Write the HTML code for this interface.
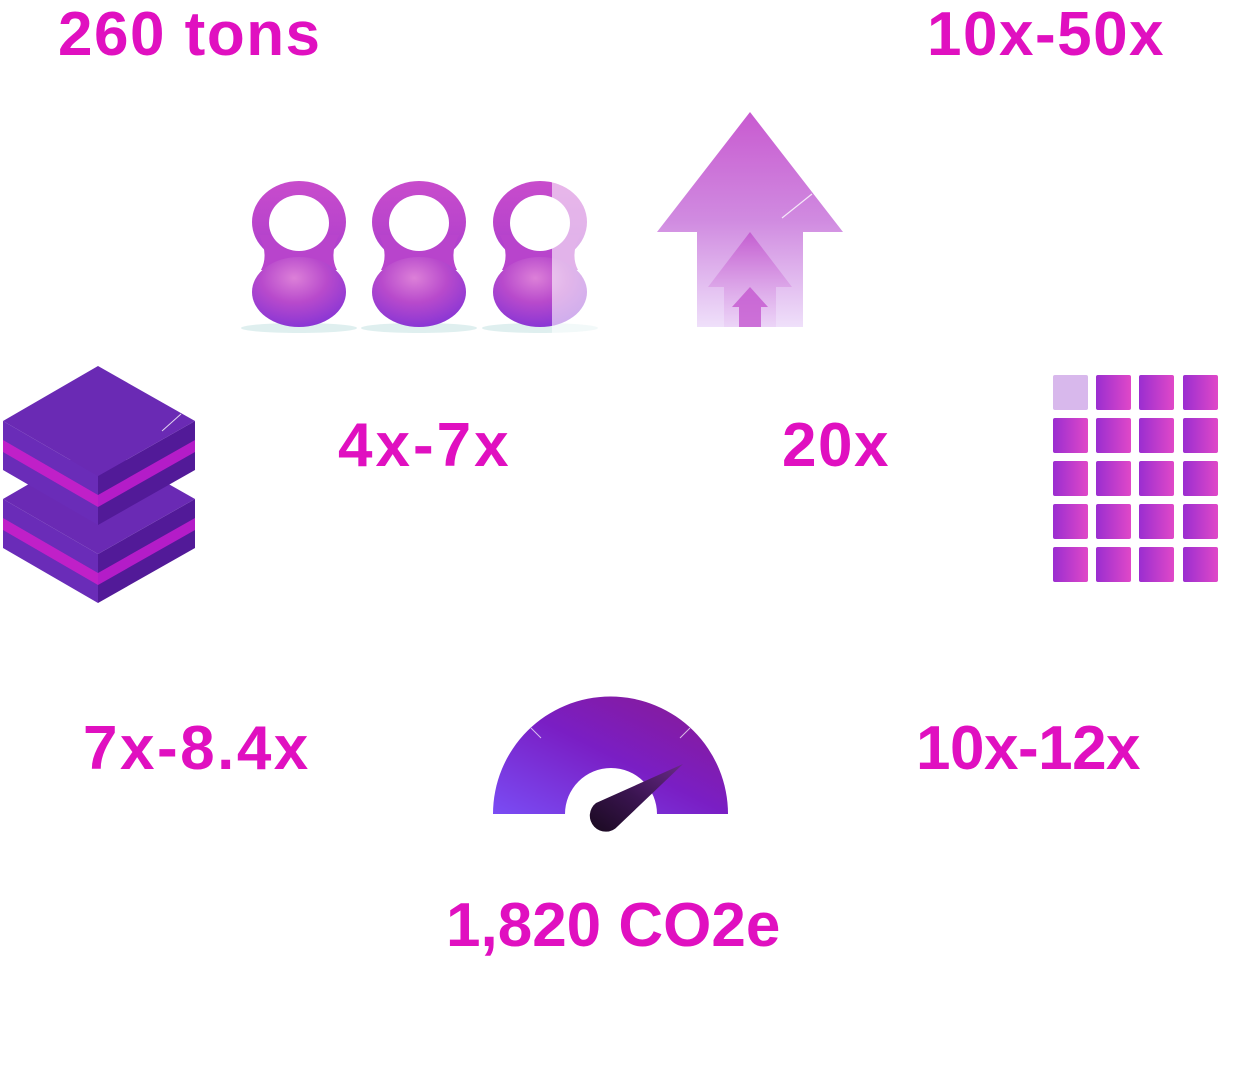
<!DOCTYPE html>
<html><head><meta charset="utf-8"><style>
html,body{margin:0;padding:0;background:#fff;width:1250px;height:1091px;overflow:hidden}
.t{position:absolute;font-family:"Liberation Sans",sans-serif;font-weight:bold;color:#e010c0;font-size:62px;line-height:1;white-space:nowrap;letter-spacing:1.5px}
</style></head><body>
<svg width="1250" height="1091" style="position:absolute;left:0;top:0">
<defs>
<linearGradient id="kb" x1="0" y1="0" x2="0" y2="1"><stop offset="0" stop-color="#c84ccc"/><stop offset="0.6" stop-color="#b844cc"/><stop offset="1" stop-color="#a63ed0"/></linearGradient>
<radialGradient id="kbb" cx="0.45" cy="0.3" r="0.7"><stop offset="0" stop-color="#dc80d8"/><stop offset="0.5" stop-color="#b84acc"/><stop offset="1" stop-color="#8a36d4"/></radialGradient>
<g id="kettle">
<ellipse cx="0" cy="3" rx="58" ry="5" fill="#bfe0e0" opacity="0.5"/>
<ellipse cx="0" cy="-103" rx="47" ry="41" fill="url(#kb)"/>
<path d="M-40,-90 Q-30,-70 -38,-55 L38,-55 Q30,-70 40,-90 Z" fill="#b844cc"/>
<ellipse cx="0" cy="-33" rx="47" ry="35" fill="url(#kbb)"/>
<ellipse cx="0" cy="-102" rx="30" ry="28" fill="#fff"/>
</g>
<linearGradient id="ar" x1="0" y1="0" x2="0" y2="1"><stop offset="0" stop-color="#c85ad0"/><stop offset="0.5" stop-color="#d08ae0"/><stop offset="1" stop-color="#efe0fa"/></linearGradient>
<linearGradient id="ar2" x1="0" y1="0" x2="0" y2="1"><stop offset="0" stop-color="#c050cc"/><stop offset="1" stop-color="#e8c8f4" stop-opacity="0.6"/></linearGradient>
<linearGradient id="sq" x1="0" y1="0" x2="1" y2="0"><stop offset="0" stop-color="#9a2ed0"/><stop offset="1" stop-color="#e048c8"/></linearGradient>
<linearGradient id="g1" x1="0" y1="1" x2="1" y2="0"><stop offset="0" stop-color="#7a4cf4"/><stop offset="0.5" stop-color="#7a1ec4"/><stop offset="1" stop-color="#8a1a90"/></linearGradient>
<linearGradient id="nd" x1="0" y1="1" x2="1" y2="0"><stop offset="0" stop-color="#1a0a20"/><stop offset="0.5" stop-color="#3a1450"/><stop offset="1" stop-color="#6a2a8a"/></linearGradient>
<clipPath id="lft"><rect x="0" y="0" width="552" height="400"/></clipPath>
<clipPath id="rgt"><rect x="552" y="0" width="100" height="400"/></clipPath>
</defs>
<use href="#kettle" x="299" y="325"/>
<use href="#kettle" x="419" y="325"/>
<g clip-path="url(#lft)"><use href="#kettle" x="540" y="325"/></g>
<g clip-path="url(#rgt)" opacity="0.4"><use href="#kettle" x="540" y="325"/></g>
<polygon points="750,112 843,232 803,232 803,327 697,327 697,232 657,232" fill="url(#ar)"/>
<polygon points="750,232 792,287 776,287 776,327 724,327 724,287 708,287" fill="url(#ar2)" opacity="0.8"/>
<polygon points="750,287 768,307 761,307 761,327 739,327 739,307 732,307" fill="#c458d0" opacity="0.8"/>
<line x1="782" y1="218" x2="812" y2="194" stroke="#fff" stroke-width="1.2" opacity="0.8"/>
<g>
<polygon points="3,499 98,554 98,603 3,548" fill="#6a2cb8"/>
<polygon points="98,554 195,499 195,548 98,603" fill="#521a98"/>
<polygon points="3,518 98,573 98,585 3,530" fill="#c020c8"/>
<polygon points="98,573 195,518 195,530 98,585" fill="#b41cc8"/>
<polygon points="98,444 195,499 98,554 3,499" fill="#6a2ab4"/>
<polygon points="3,421 98,476 98,525 3,470" fill="#6a2cb8"/>
<polygon points="98,476 195,421 195,470 98,525" fill="#521a98"/>
<polygon points="3,440 98,495 98,507 3,452" fill="#c020c8"/>
<polygon points="98,495 195,440 195,452 98,507" fill="#b41cc8"/>
<polygon points="98,366 195,421 98,476 3,421" fill="#6a2ab4"/>
<line x1="162" y1="431" x2="181" y2="414" stroke="#fff" stroke-width="1" opacity="0.8"/>
</g>
<g fill="url(#sq)">
<rect x="1053" y="375" width="35" height="35" rx="2" fill="#d8b8ec"/>
<rect x="1096" y="375" width="35" height="35" rx="2"/><rect x="1139" y="375" width="35" height="35" rx="2"/><rect x="1183" y="375" width="35" height="35" rx="2"/>
<rect x="1053" y="418" width="35" height="35" rx="2"/><rect x="1096" y="418" width="35" height="35" rx="2"/><rect x="1139" y="418" width="35" height="35" rx="2"/><rect x="1183" y="418" width="35" height="35" rx="2"/>
<rect x="1053" y="461" width="35" height="35" rx="2"/><rect x="1096" y="461" width="35" height="35" rx="2"/><rect x="1139" y="461" width="35" height="35" rx="2"/><rect x="1183" y="461" width="35" height="35" rx="2"/>
<rect x="1053" y="504" width="35" height="35" rx="2"/><rect x="1096" y="504" width="35" height="35" rx="2"/><rect x="1139" y="504" width="35" height="35" rx="2"/><rect x="1183" y="504" width="35" height="35" rx="2"/>
<rect x="1053" y="547" width="35" height="35" rx="2"/><rect x="1096" y="547" width="35" height="35" rx="2"/><rect x="1139" y="547" width="35" height="35" rx="2"/><rect x="1183" y="547" width="35" height="35" rx="2"/>
</g>
<path d="M493,814 A117.5,117.5 0 0 1 728,814 L657,814 A46,46 0 0 0 565,814 Z" fill="url(#g1)"/>
<line x1="531" y1="728" x2="541" y2="738" stroke="#fff" stroke-width="1" opacity="0.7"/>
<line x1="690" y1="728" x2="680" y2="738" stroke="#fff" stroke-width="1" opacity="0.7"/>
<path d="M683,764 L618,826 A16,16 0 1 1 596,803 Z" fill="url(#nd)"/>
</svg>
<div class="t" style="left:58px;top:4px">260 tons</div>
<div class="t" style="left:927px;top:4px">10x-50x</div>
<div class="t" style="left:338px;top:415px;letter-spacing:3px">4x-7x</div>
<div class="t" style="left:782px;top:415px">20x</div>
<div class="t" style="left:83px;top:718px;letter-spacing:2.5px">7x-8.4x</div>
<div class="t" style="left:916px;top:718px;letter-spacing:-0.5px">10x-12x</div>
<div class="t" style="left:446px;top:895px;letter-spacing:0">1,820 CO2e</div>
</body></html>
